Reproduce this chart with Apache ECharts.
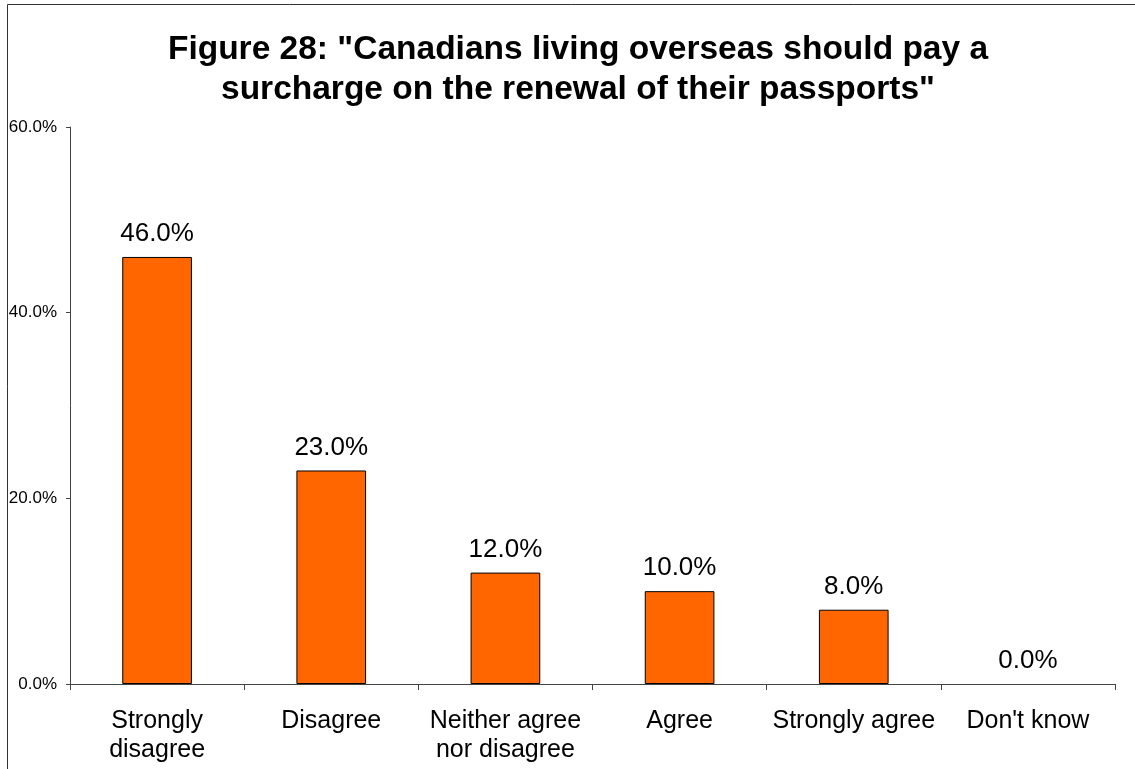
<!DOCTYPE html>
<html>
<head>
<meta charset="utf-8">
<script src="https://cdn.jsdelivr.net/npm/echarts@6/dist/echarts.min.js"></script>
<style>
  html, body { margin: 0; padding: 0; background: #fff; }
  #chart { width: 1135px; height: 769px; }
</style>
</head>
<body>
<div id="chart"></div>
<script>
// Survey responses (percent of respondents)
const categories = ['Strongly\ndisagree', 'Disagree', 'Neither agree\nnor disagree', 'Agree', 'Strongly agree', "Don't know"];
const shares = [46.0, 23.0, 12.0, 10.0, 8.0, 0.0];
const titleText = 'Figure 28: "Canadians living overseas should pay a\nsurcharge on the renewal of their passports"';

const FONT = '"Liberation Sans", Arial, Helvetica, sans-serif';
const chart = echarts.init(document.getElementById('chart'), null, { renderer: 'canvas' });

// zero-height bars get no outline so they don't leave a stray stroke on the axis
const barData = shares.map(v => ({
  value: v,
  itemStyle: v === 0 ? { borderWidth: 0, opacity: 0 } : undefined
}));

chart.setOption({
  backgroundColor: '#ffffff',
  animation: false,
  title: {
    text: titleText,
    left: 573,
    textAlign: 'center',
    top: 25,
    textStyle: {
      fontFamily: FONT,
      fontWeight: 'bold',
      fontSize: 33.5,
      lineHeight: 40,
      color: '#000'
    }
  },
  graphic: [
    { type: 'line', shape: { x1: 7.5, y1: 4.5, x2: 7.5, y2: 769 }, style: { stroke: '#333', lineWidth: 1 } },
    { type: 'line', shape: { x1: 7.5, y1: 4.5, x2: 1135, y2: 4.5 }, style: { stroke: '#333', lineWidth: 1 } }
  ],
  grid: { left: 70, right: 20, top: 127, bottom: 85, containLabel: false },
  xAxis: {
    type: 'category',
    data: categories,
    axisLine: { lineStyle: { color: '#444', width: 1 } },
    axisTick: { show: true, length: 6, lineStyle: { color: '#444' } },
    axisLabel: {
      interval: 0,
      margin: 23,
      fontFamily: FONT,
      fontSize: 25,
      lineHeight: 29,
      color: '#000'
    }
  },
  yAxis: {
    type: 'value',
    min: 0,
    max: 60,
    interval: 20,
    splitLine: { show: false },
    axisLine: { show: true, lineStyle: { color: '#444', width: 1 } },
    axisTick: { show: true, length: 4, lineStyle: { color: '#444' } },
    axisLabel: {
      margin: 13,
      fontFamily: FONT,
      fontSize: 17,
      color: '#000',
      formatter: v => v.toFixed(1) + '%'
    }
  },
  series: [{
    type: 'bar',
    data: barData,
    barWidth: '40%',
    itemStyle: { color: '#FF6600', borderColor: '#000', borderWidth: 1 },
    label: {
      show: true,
      position: 'top',
      distance: 10,
      fontFamily: FONT,
      fontSize: 26,
      color: '#000',
      opacity: 1,
      formatter: p => p.value.toFixed(1) + '%'
    }
  }]
});
</script>
</body>
</html>
